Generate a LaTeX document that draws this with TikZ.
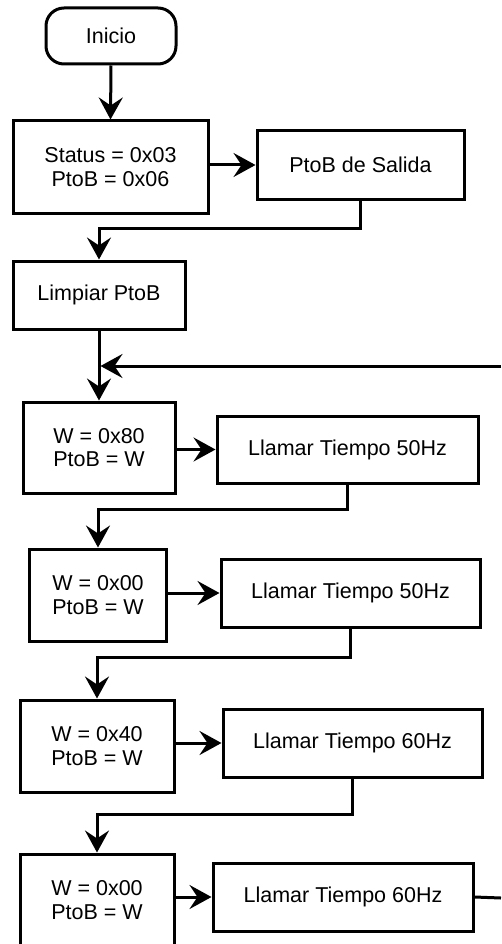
\documentclass[tikz,border=0pt]{standalone}
\usepackage{fontspec}
\setmainfont{Liberation Sans}
\usetikzlibrary{arrows.meta,positioning}
\tikzset{
  boxst/.style={draw=black, line width=3pt, fill=white, rectangle, inner sep=0pt, align=center,
    font=\fontsize{21.5}{23.5}\selectfont},
  startst/.style={boxst, rounded corners=18pt},
  conn/.style={line width=3pt, -{Stealth[length=22pt,width=24pt,inset=8pt]}},
  plainconn/.style={line width=3pt}
}
\begin{document}
\begin{tikzpicture}[x=1pt,y=-1pt]
\useasboundingbox[fill=white] (0,0) rectangle (501,944);
\begin{scope}
\clip (0,0) rectangle (501,944);
\node[startst, minimum width=130pt, minimum height=56pt] (ini) at (111,36) {Inicio};
\node[boxst, minimum width=195pt, minimum height=92pt] (b1) at (110.5,167) {Status = 0x03\\PtoB = 0x06};
\node[boxst, minimum width=207pt, minimum height=68pt] (b2) at (360.5,165) {PtoB de Salida};
\node[boxst, minimum width=172pt, minimum height=68pt] (b3) at (99,295) {Limpiar PtoB};
\node[boxst, minimum width=152pt, minimum height=91pt] (b4) at (99,447.5) {W = 0x80\\PtoB = W};
\node[boxst, minimum width=261pt, minimum height=67pt] (b5) at (347.5,449.5) {Llamar Tiempo 50Hz};
\node[boxst, minimum width=137pt, minimum height=92pt] (b6) at (98,595) {W = 0x00\\PtoB = W};
\node[boxst, minimum width=259pt, minimum height=68pt] (b7) at (350.5,593) {Llamar Tiempo 50Hz};
\node[boxst, minimum width=154pt, minimum height=92pt] (b8) at (97,746) {W = 0x40\\PtoB = W};
\node[boxst, minimum width=259pt, minimum height=68pt] (b9) at (352.5,743) {Llamar Tiempo 60Hz};
\node[boxst, minimum width=154pt, minimum height=92pt] (b10) at (97,900) {W = 0x00\\PtoB = W};
\node[boxst, minimum width=260pt, minimum height=68pt] (b11) at (343,897) {Llamar Tiempo 60Hz};

\coordinate (loopin) at (501,366);
\coordinate (loopout) at (501,898);

\draw[conn] (ini.south) -- (b1.north);
\draw[conn] (b1.east |- b2.west) -- (b2.west);
\draw[conn] (b2.south) -- ++(0,28) -| (b3.north);
\draw[conn] (b3.south) -- (b4.north);
\draw[conn] (loopin) -- ([xshift=1.5pt]b3.south |- loopin);
\draw[conn] (b4.east |- b5.west) -- (b5.west);
\draw[conn] (b5.south) -- ++(0,25) -| (b6.north);
\draw[conn] (b6.east |- b7.west) -- (b7.west);
\draw[conn] (b7.south) -- ++(0,29) -| (b8.north);
\draw[conn] (b8.east |- b9.west) -- (b9.west);
\draw[conn] (b9.south) -- ++(0,36) -| (b10.north);
\draw[conn] (b10.east |- b11.west) -- (b11.west);
\draw[plainconn] (b11.east) -- (loopout);
\end{scope}
\end{tikzpicture}
\end{document}
